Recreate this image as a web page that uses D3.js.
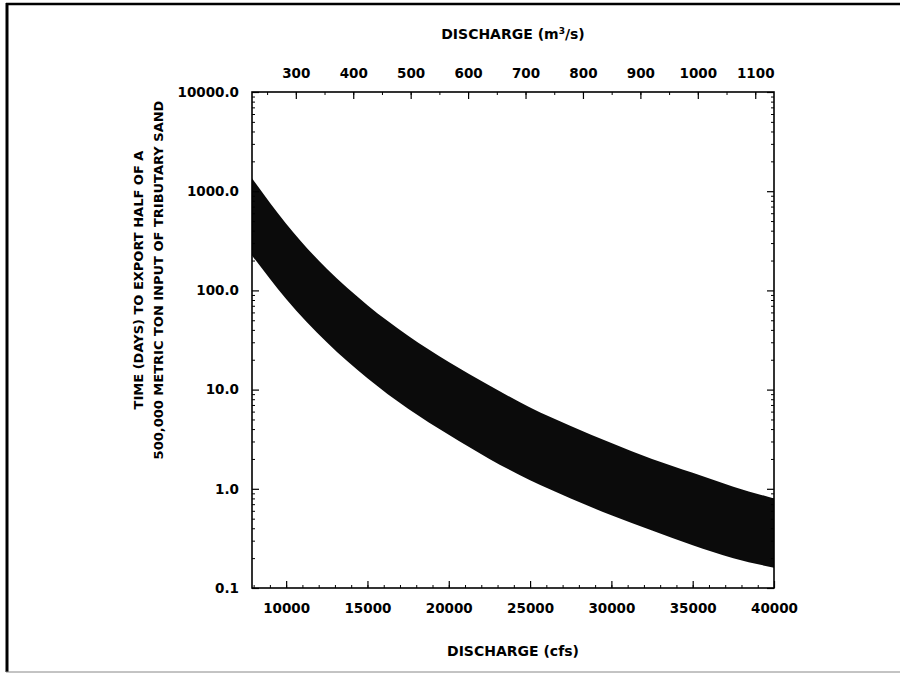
<!DOCTYPE html>
<html lang="en">
    <head>
        <meta charset="utf-8">
        <title>Sand export time vs discharge</title>
        <script type="text/javascript" src="https://cdn.jsdelivr.net/npm/d3@7"></script>
        <style>
            body { margin: 0; background: #fff; }
            text { font-family: "DejaVu Sans", sans-serif; font-weight: bold; fill: #000; }
        </style>
    </head>
    <body>
        <div class="chart"></div>
        <script type="text/javascript">
            // discharge (cfs) and the band edges (days)
            var discharge = [7900, 10000, 12500, 15000, 17500, 20000, 22500, 25000, 27500, 30000, 32500, 35000, 37500, 40000];
            var upperDays = [1350, 470, 165, 71, 35, 19, 11, 6.6, 4.3, 2.9, 2.0, 1.45, 1.05, 0.8];
            var lowerDays = [225, 82, 30, 13, 6.4, 3.5, 2.0, 1.22, 0.8, 0.54, 0.38, 0.27, 0.2, 0.16];
            var cfsTicks = [10000, 15000, 20000, 25000, 30000, 35000, 40000];
            var cmsTicks = [300, 400, 500, 600, 700, 800, 900, 1000, 1100];
            var dayTicks = [0.1, 1, 10, 100, 1000, 10000];
            var cfsPerCms = 35.3147;

            var w = 900, h = 675;
            var pl = 252, pr = 774, pt = 92, pb = 588;  // plot box

            var svg = d3.select("div.chart")
                        .append("svg")
                        .attr("width", w)
                        .attr("height", h);

            // outer page frame (left, top, bottom only)
            svg.append("line").attr("x1", 7).attr("y1", 3).attr("x2", 7).attr("y2", 672)
               .attr("stroke", "#000").attr("stroke-width", 3);
            svg.append("line").attr("x1", 6).attr("y1", 4).attr("x2", 900).attr("y2", 4)
               .attr("stroke", "#000").attr("stroke-width", 2.5);
            svg.append("line").attr("x1", 6).attr("y1", 672).attr("x2", 900).attr("y2", 672)
               .attr("stroke", "#888").attr("stroke-width", 1);

            var x = d3.scaleLinear().domain([7900, 40000]).range([pl, pr]);
            var xTop = d3.scaleLinear().domain([7900 / cfsPerCms, 40000 / cfsPerCms]).range([pl, pr]);
            var y = d3.scaleLog().domain([0.1, 10000]).range([pb, pt]);

            // the band
            var rows = discharge.map(function(d, i) { return {q: d, hi: upperDays[i], lo: lowerDays[i]}; });
            var area = d3.area()
                         .x(function(d) { return x(d.q); })
                         .y0(function(d) { return y(d.lo); })
                         .y1(function(d) { return y(d.hi); })
                         .curve(d3.curveMonotoneX);
            svg.append("path").datum(rows).attr("d", area).attr("fill", "#0b0b0b");

            // minor ticks
            var minorX = d3.range(8000, 40001, 1000);
            var minorTop = d3.range(250, 1131, 50);
            var minorY = [];
            dayTicks.slice(0, -1).forEach(function(t) {
                for (var k = 2; k < 10; k++) minorY.push(t * k);
            });

            function tickAxis(axis, tr, majors, minors, fmt, pad) {
                var g = svg.append("g").attr("transform", tr);
                g.call(axis.tickValues(minors).tickSize(-3).tickFormat(""));
                g.selectAll(".tick line").attr("stroke-width", 1);
                g.select(".domain").remove();
                var g2 = svg.append("g").attr("transform", tr);
                g2.call(axis.tickValues(majors).tickSize(-7).tickPadding(pad).tickFormat(fmt));
                g2.select(".domain").remove();
                g2.selectAll(".tick line").attr("stroke-width", 1.2);
                g2.selectAll("text").attr("font-size", "13.5px")
                  .attr("font-family", "DejaVu Sans").attr("font-weight", "bold");
                return g2;
            }

            tickAxis(d3.axisBottom(x), "translate(0," + pb + ")", cfsTicks, minorX, d3.format("d"), 15);
            tickAxis(d3.axisTop(xTop), "translate(0," + pt + ")", cmsTicks, minorTop, d3.format("d"), 14);
            tickAxis(d3.axisLeft(y), "translate(" + pl + ",0)", dayTicks, minorY, d3.format(".1f"), 13);
            tickAxis(d3.axisRight(y), "translate(" + pr + ",0)", dayTicks, minorY, function() { return ""; }, 4);

            // plot frame
            svg.append("rect")
               .attr("x", pl).attr("y", pt)
               .attr("width", pr - pl).attr("height", pb - pt)
               .attr("fill", "none").attr("stroke", "#000").attr("stroke-width", 1.6);

            // titles
            var mid = (pl + pr) / 2;
            var t = svg.append("text").attr("x", mid).attr("y", 39)
                       .attr("text-anchor", "middle").attr("font-size", "14px");
            t.append("tspan").text("DISCHARGE (m");
            t.append("tspan").attr("font-size", "9px").attr("dy", -5).text("3");
            t.append("tspan").attr("dy", 5).text("/s)");

            svg.append("text").attr("x", mid).attr("y", 656)
               .attr("text-anchor", "middle").attr("font-size", "14px")
               .text("DISCHARGE (cfs)");

            var yl = svg.append("text")
                        .attr("transform", "translate(143,280) rotate(-90)")
                        .attr("text-anchor", "middle").attr("font-size", "13px");
            yl.append("tspan").attr("x", 0).attr("y", 0).text("TIME (DAYS) TO EXPORT HALF OF A");
            yl.append("tspan").attr("x", 0).attr("y", 20).text("500,000 METRIC TON INPUT OF TRIBUTARY SAND");
        </script>
    </body>
</html>
